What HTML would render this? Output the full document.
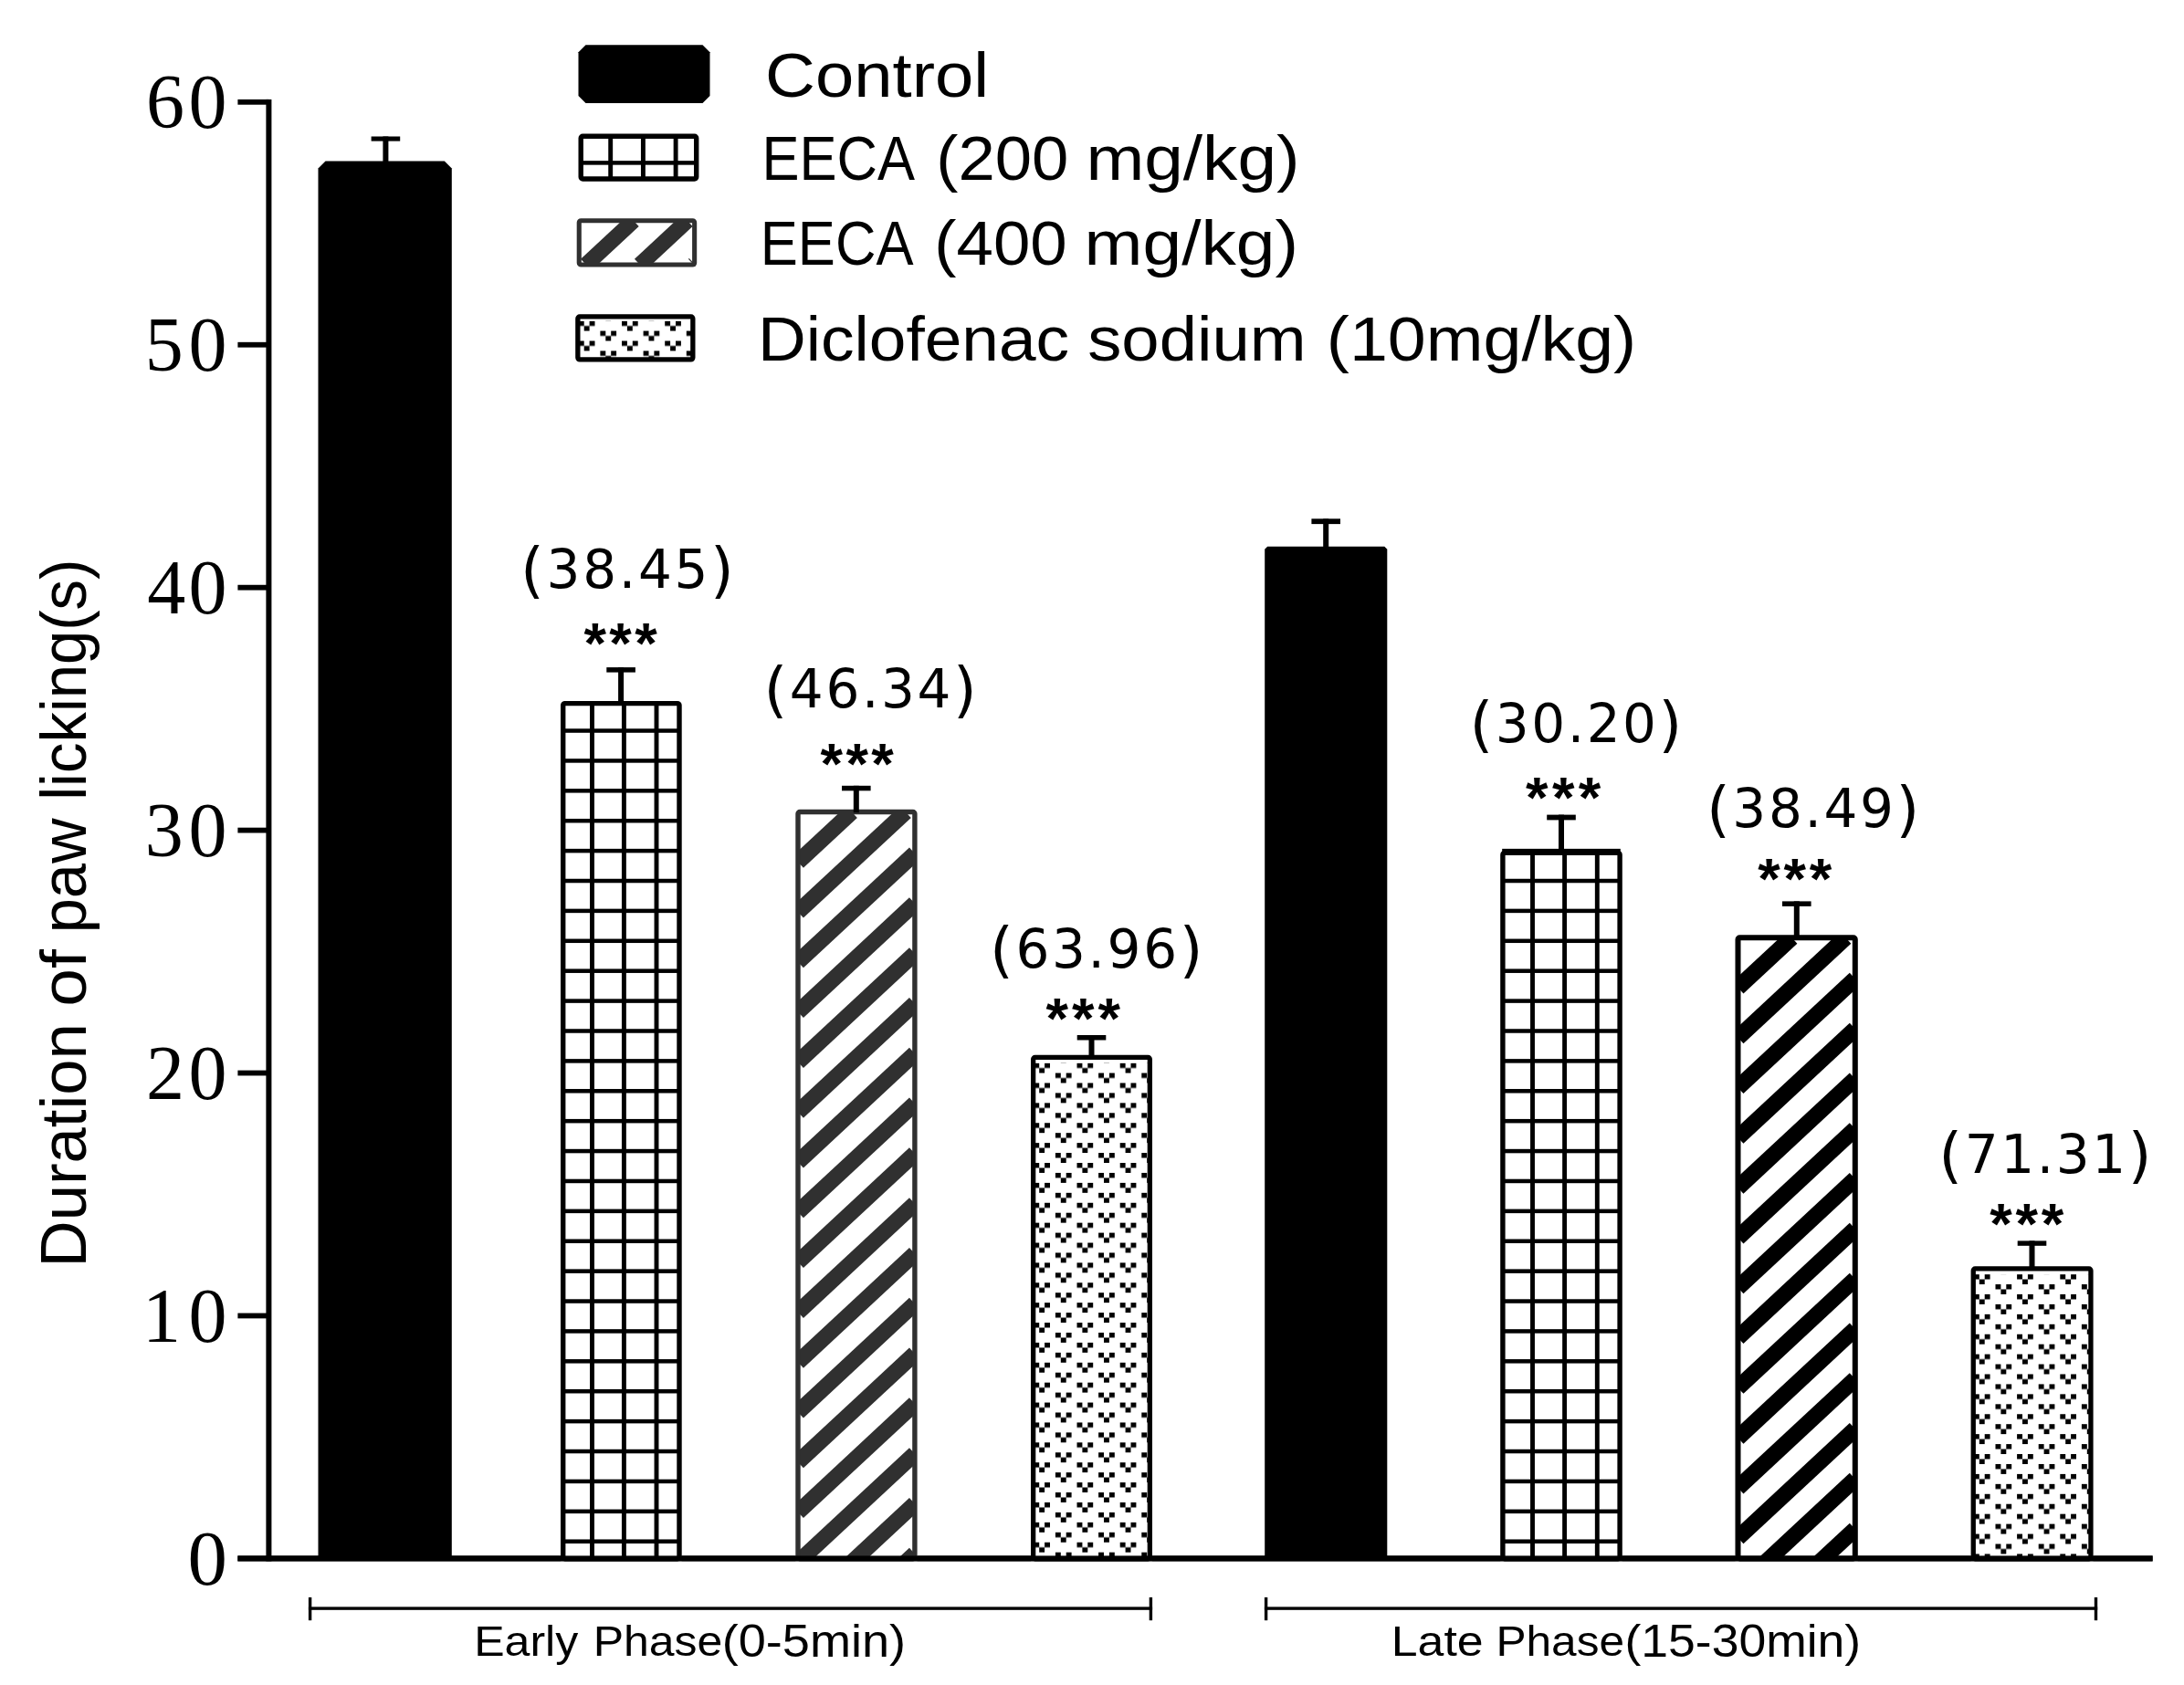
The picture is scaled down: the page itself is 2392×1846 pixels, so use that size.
<!DOCTYPE html>
<html><head><meta charset="utf-8"><title>Duration of paw licking</title>
<style>html,body{margin:0;padding:0;background:#fff}svg{display:block}text{white-space:pre}</style></head>
<body><svg width="2392" height="1846" viewBox="0 0 2392 1846">
<rect width="2392" height="1846" fill="#fff"/>
<rect x="291.40" y="108.90" width="6.00" height="1601.50" fill="#000"/>
<rect x="260.40" y="1704.40" width="2097.20" height="6.00" fill="#000"/>
<rect x="260.40" y="1438.57" width="34.00" height="5.80" fill="#000"/>
<rect x="260.40" y="1172.63" width="34.00" height="5.80" fill="#000"/>
<rect x="260.40" y="906.70" width="34.00" height="5.80" fill="#000"/>
<rect x="260.40" y="640.77" width="34.00" height="5.80" fill="#000"/>
<rect x="260.40" y="374.83" width="34.00" height="5.80" fill="#000"/>
<rect x="260.40" y="108.90" width="34.00" height="5.80" fill="#000"/>
<polygon points="356.50,176.60 486.80,176.60 494.80,184.60 494.80,1707.40 348.50,1707.40 348.50,184.60" fill="#000"/>
<rect x="614.00" y="767.90" width="132.70" height="942.50" fill="#fff"/>
<rect x="646.05" y="769.90" width="4.90" height="938.50" fill="#000"/>
<rect x="680.95" y="769.90" width="4.90" height="938.50" fill="#000"/>
<rect x="716.55" y="769.90" width="4.90" height="938.50" fill="#000"/>
<rect x="616.00" y="1686.45" width="128.70" height="4.50" fill="#000"/>
<rect x="616.00" y="1653.56" width="128.70" height="4.50" fill="#000"/>
<rect x="616.00" y="1620.66" width="128.70" height="4.50" fill="#000"/>
<rect x="616.00" y="1587.77" width="128.70" height="4.50" fill="#000"/>
<rect x="616.00" y="1554.87" width="128.70" height="4.50" fill="#000"/>
<rect x="616.00" y="1521.97" width="128.70" height="4.50" fill="#000"/>
<rect x="616.00" y="1489.08" width="128.70" height="4.50" fill="#000"/>
<rect x="616.00" y="1456.18" width="128.70" height="4.50" fill="#000"/>
<rect x="616.00" y="1423.29" width="128.70" height="4.50" fill="#000"/>
<rect x="616.00" y="1390.39" width="128.70" height="4.50" fill="#000"/>
<rect x="616.00" y="1357.50" width="128.70" height="4.50" fill="#000"/>
<rect x="616.00" y="1324.61" width="128.70" height="4.50" fill="#000"/>
<rect x="616.00" y="1291.71" width="128.70" height="4.50" fill="#000"/>
<rect x="616.00" y="1258.82" width="128.70" height="4.50" fill="#000"/>
<rect x="616.00" y="1225.92" width="128.70" height="4.50" fill="#000"/>
<rect x="616.00" y="1193.03" width="128.70" height="4.50" fill="#000"/>
<rect x="616.00" y="1160.13" width="128.70" height="4.50" fill="#000"/>
<rect x="616.00" y="1127.24" width="128.70" height="4.50" fill="#000"/>
<rect x="616.00" y="1094.34" width="128.70" height="4.50" fill="#000"/>
<rect x="616.00" y="1061.44" width="128.70" height="4.50" fill="#000"/>
<rect x="616.00" y="1028.55" width="128.70" height="4.50" fill="#000"/>
<rect x="616.00" y="995.65" width="128.70" height="4.50" fill="#000"/>
<rect x="616.00" y="962.76" width="128.70" height="4.50" fill="#000"/>
<rect x="616.00" y="929.87" width="128.70" height="4.50" fill="#000"/>
<rect x="616.00" y="896.97" width="128.70" height="4.50" fill="#000"/>
<rect x="616.00" y="864.07" width="128.70" height="4.50" fill="#000"/>
<rect x="616.00" y="831.18" width="128.70" height="4.50" fill="#000"/>
<rect x="616.00" y="798.28" width="128.70" height="4.50" fill="#000"/>
<rect x="616.70" y="770.60" width="127.30" height="937.10" fill="none" stroke="#000" stroke-width="5.4" rx="2"/>
<clipPath id="c1"><rect x="872.30" y="887.80" width="131.30" height="821.60"/></clipPath>
<rect x="871.30" y="886.80" width="133.30" height="823.60" fill="#fff"/>
<g clip-path="url(#c1)" stroke="#303030" stroke-width="17.43" stroke-linecap="butt">
<line x1="874.00" y1="944.30" x2="932.92" y2="889.50"/>
<line x1="874.00" y1="999.10" x2="991.85" y2="889.50"/>
<line x1="874.00" y1="1053.90" x2="1001.90" y2="934.95"/>
<line x1="874.00" y1="1108.70" x2="1001.90" y2="989.75"/>
<line x1="874.00" y1="1163.50" x2="1001.90" y2="1044.55"/>
<line x1="874.00" y1="1218.30" x2="1001.90" y2="1099.35"/>
<line x1="874.00" y1="1273.10" x2="1001.90" y2="1154.15"/>
<line x1="874.00" y1="1327.90" x2="1001.90" y2="1208.95"/>
<line x1="874.00" y1="1382.70" x2="1001.90" y2="1263.75"/>
<line x1="874.00" y1="1437.50" x2="1001.90" y2="1318.55"/>
<line x1="874.00" y1="1492.30" x2="1001.90" y2="1373.35"/>
<line x1="874.00" y1="1547.10" x2="1001.90" y2="1428.15"/>
<line x1="874.00" y1="1601.90" x2="1001.90" y2="1482.95"/>
<line x1="874.00" y1="1656.70" x2="1001.90" y2="1537.75"/>
<line x1="874.00" y1="1711.50" x2="1001.90" y2="1592.55"/>
<line x1="874.00" y1="1766.30" x2="1001.90" y2="1647.35"/>
<line x1="874.00" y1="1821.10" x2="1001.90" y2="1702.15"/>
<line x1="874.00" y1="1875.90" x2="1001.90" y2="1756.95"/>
<line x1="895.83" y1="1910.40" x2="1001.90" y2="1811.75"/>
<line x1="954.75" y1="1910.40" x2="1001.90" y2="1866.55"/>
</g>
<rect x="874.00" y="889.50" width="127.90" height="818.20" fill="none" stroke="#303030" stroke-width="5.4" rx="2"/>
<clipPath id="c2"><rect x="1129.00" y="1155.80" width="133.00" height="554.60"/></clipPath>
<rect x="1129.00" y="1155.80" width="133.00" height="554.60" fill="#fff"/>
<pattern id="p2" patternUnits="userSpaceOnUse" x="1132.30" y="1164.60" width="47.20" height="21.88"><g fill="#000"><rect x="0.00" y="0.00" width="5.90" height="5.47"/><rect x="11.80" y="0.00" width="5.90" height="5.47"/><rect x="5.90" y="5.47" width="5.90" height="5.47"/><rect x="23.60" y="10.94" width="5.90" height="5.47"/><rect x="35.40" y="10.94" width="5.90" height="5.47"/><rect x="29.50" y="16.41" width="5.90" height="5.47"/></g></pattern>
<rect x="1131.00" y="1164.60" width="129.00" height="543.80" fill="url(#p2)"/>
<rect x="1131.65" y="1158.45" width="127.70" height="549.30" fill="none" stroke="#000" stroke-width="5.3" rx="2"/>
<polygon points="1388.20,598.80 1516.30,598.80 1519.30,601.80 1519.30,1707.40 1385.20,1707.40 1385.20,601.80" fill="#000"/>
<rect x="1643.20" y="931.70" width="133.60" height="778.70" fill="#fff"/>
<rect x="1676.05" y="933.70" width="4.90" height="774.70" fill="#000"/>
<rect x="1711.15" y="933.70" width="4.90" height="774.70" fill="#000"/>
<rect x="1746.85" y="933.70" width="4.90" height="774.70" fill="#000"/>
<rect x="1645.20" y="1686.45" width="129.60" height="4.50" fill="#000"/>
<rect x="1645.20" y="1653.56" width="129.60" height="4.50" fill="#000"/>
<rect x="1645.20" y="1620.66" width="129.60" height="4.50" fill="#000"/>
<rect x="1645.20" y="1587.77" width="129.60" height="4.50" fill="#000"/>
<rect x="1645.20" y="1554.87" width="129.60" height="4.50" fill="#000"/>
<rect x="1645.20" y="1521.97" width="129.60" height="4.50" fill="#000"/>
<rect x="1645.20" y="1489.08" width="129.60" height="4.50" fill="#000"/>
<rect x="1645.20" y="1456.18" width="129.60" height="4.50" fill="#000"/>
<rect x="1645.20" y="1423.29" width="129.60" height="4.50" fill="#000"/>
<rect x="1645.20" y="1390.39" width="129.60" height="4.50" fill="#000"/>
<rect x="1645.20" y="1357.50" width="129.60" height="4.50" fill="#000"/>
<rect x="1645.20" y="1324.61" width="129.60" height="4.50" fill="#000"/>
<rect x="1645.20" y="1291.71" width="129.60" height="4.50" fill="#000"/>
<rect x="1645.20" y="1258.82" width="129.60" height="4.50" fill="#000"/>
<rect x="1645.20" y="1225.92" width="129.60" height="4.50" fill="#000"/>
<rect x="1645.20" y="1193.03" width="129.60" height="4.50" fill="#000"/>
<rect x="1645.20" y="1160.13" width="129.60" height="4.50" fill="#000"/>
<rect x="1645.20" y="1127.24" width="129.60" height="4.50" fill="#000"/>
<rect x="1645.20" y="1094.34" width="129.60" height="4.50" fill="#000"/>
<rect x="1645.20" y="1061.44" width="129.60" height="4.50" fill="#000"/>
<rect x="1645.20" y="1028.55" width="129.60" height="4.50" fill="#000"/>
<rect x="1645.20" y="995.65" width="129.60" height="4.50" fill="#000"/>
<rect x="1645.20" y="962.76" width="129.60" height="4.50" fill="#000"/>
<rect x="1645.20" y="929.87" width="129.60" height="4.50" fill="#000"/>
<rect x="1645.90" y="934.40" width="128.20" height="773.30" fill="none" stroke="#000" stroke-width="5.4" rx="2"/>
<clipPath id="c3"><rect x="1901.50" y="1025.20" width="132.30" height="684.20"/></clipPath>
<rect x="1900.50" y="1024.20" width="134.30" height="686.20" fill="#fff"/>
<g clip-path="url(#c3)" stroke="#000" stroke-width="17.57" stroke-linecap="butt">
<line x1="1903.50" y1="1082.00" x2="1962.42" y2="1027.20"/>
<line x1="1903.50" y1="1136.80" x2="2021.35" y2="1027.20"/>
<line x1="1903.50" y1="1191.60" x2="2031.80" y2="1072.28"/>
<line x1="1903.50" y1="1246.40" x2="2031.80" y2="1127.08"/>
<line x1="1903.50" y1="1301.20" x2="2031.80" y2="1181.88"/>
<line x1="1903.50" y1="1356.00" x2="2031.80" y2="1236.68"/>
<line x1="1903.50" y1="1410.80" x2="2031.80" y2="1291.48"/>
<line x1="1903.50" y1="1465.60" x2="2031.80" y2="1346.28"/>
<line x1="1903.50" y1="1520.40" x2="2031.80" y2="1401.08"/>
<line x1="1903.50" y1="1575.20" x2="2031.80" y2="1455.88"/>
<line x1="1903.50" y1="1630.00" x2="2031.80" y2="1510.68"/>
<line x1="1903.50" y1="1684.80" x2="2031.80" y2="1565.48"/>
<line x1="1903.50" y1="1739.60" x2="2031.80" y2="1620.28"/>
<line x1="1903.50" y1="1794.40" x2="2031.80" y2="1675.08"/>
<line x1="1903.50" y1="1849.20" x2="2031.80" y2="1729.88"/>
<line x1="1903.50" y1="1904.00" x2="2031.80" y2="1784.68"/>
<line x1="1955.54" y1="1910.40" x2="2031.80" y2="1839.48"/>
<line x1="2014.47" y1="1910.40" x2="2031.80" y2="1894.28"/>
</g>
<rect x="1903.50" y="1027.20" width="128.30" height="680.20" fill="none" stroke="#000" stroke-width="6.0" rx="2"/>
<clipPath id="c4"><rect x="2158.60" y="1387.30" width="134.00" height="323.10"/></clipPath>
<rect x="2158.60" y="1387.30" width="134.00" height="323.10" fill="#fff"/>
<pattern id="p4" patternUnits="userSpaceOnUse" x="2161.90" y="1396.10" width="47.20" height="21.88"><g fill="#000"><rect x="0.00" y="0.00" width="5.90" height="5.47"/><rect x="11.80" y="0.00" width="5.90" height="5.47"/><rect x="5.90" y="5.47" width="5.90" height="5.47"/><rect x="23.60" y="10.94" width="5.90" height="5.47"/><rect x="35.40" y="10.94" width="5.90" height="5.47"/><rect x="29.50" y="16.41" width="5.90" height="5.47"/></g></pattern>
<rect x="2160.60" y="1396.10" width="130.00" height="312.30" fill="url(#p4)"/>
<rect x="2161.25" y="1389.95" width="128.70" height="317.80" fill="none" stroke="#000" stroke-width="5.3" rx="2"/>
<rect x="419.40" y="149.50" width="6.00" height="29.80" fill="#000"/>
<rect x="406.60" y="149.50" width="31.60" height="5.10" fill="#000"/>
<rect x="677.10" y="731.10" width="6.00" height="39.50" fill="#000"/>
<rect x="664.30" y="731.10" width="31.60" height="5.50" fill="#000"/>
<rect x="934.80" y="860.80" width="6.00" height="29.40" fill="#000"/>
<rect x="922.00" y="860.80" width="31.60" height="5.50" fill="#000"/>
<rect x="1192.50" y="1134.00" width="6.00" height="24.50" fill="#000"/>
<rect x="1179.70" y="1134.00" width="31.60" height="5.50" fill="#000"/>
<rect x="1449.20" y="568.30" width="6.00" height="33.20" fill="#000"/>
<rect x="1436.40" y="568.30" width="31.60" height="5.80" fill="#000"/>
<rect x="1707.00" y="892.60" width="6.00" height="41.80" fill="#000"/>
<rect x="1694.20" y="892.60" width="31.60" height="5.80" fill="#000"/>
<rect x="1964.80" y="987.40" width="6.00" height="40.10" fill="#000"/>
<rect x="1952.00" y="987.40" width="31.60" height="5.50" fill="#000"/>
<rect x="2222.50" y="1359.40" width="6.00" height="30.60" fill="#000"/>
<rect x="2209.70" y="1359.40" width="31.60" height="5.40" fill="#000"/>
<rect x="260.40" y="1704.40" width="2097.20" height="6.00" fill="#000"/>
<polygon points="641.50,49.30 769.50,49.30 777.50,57.30 777.50,105.00 769.50,113.00 641.50,113.00 633.50,105.00 633.50,57.30" fill="#000"/>
<rect x="633.50" y="146.50" width="131.90" height="52.20" fill="#fff"/>
<rect x="666.25" y="148.50" width="4.90" height="48.20" fill="#000"/>
<rect x="701.95" y="148.50" width="4.90" height="48.20" fill="#000"/>
<rect x="737.65" y="148.50" width="4.90" height="48.20" fill="#000"/>
<rect x="635.50" y="176.15" width="127.90" height="4.50" fill="#000"/>
<rect x="636.20" y="149.20" width="126.50" height="46.80" fill="none" stroke="#000" stroke-width="5.4" rx="2"/>
<clipPath id="c5"><rect x="632.70" y="240.20" width="129.50" height="51.40"/></clipPath>
<rect x="631.70" y="239.20" width="131.50" height="53.40" fill="#fff"/>
<g clip-path="url(#c5)" stroke="#303030" stroke-width="17.21" stroke-linecap="butt">
<line x1="641.88" y1="290.05" x2="693.82" y2="241.75"/>
<line x1="700.81" y1="290.05" x2="752.74" y2="241.75"/>
<line x1="759.73" y1="290.05" x2="760.65" y2="289.20"/>
</g>
<rect x="634.25" y="241.75" width="126.40" height="48.30" fill="none" stroke="#303030" stroke-width="5.1" rx="2"/>
<clipPath id="c6"><rect x="630.20" y="344.30" width="131.30" height="52.20"/></clipPath>
<rect x="630.20" y="344.30" width="131.30" height="52.20" fill="#fff"/>
<pattern id="p6" patternUnits="userSpaceOnUse" x="633.80" y="351.60" width="47.20" height="21.88"><g fill="#000"><rect x="0.00" y="0.00" width="5.90" height="5.47"/><rect x="11.80" y="0.00" width="5.90" height="5.47"/><rect x="5.90" y="5.47" width="5.90" height="5.47"/><rect x="23.60" y="10.94" width="5.90" height="5.47"/><rect x="35.40" y="10.94" width="5.90" height="5.47"/><rect x="29.50" y="16.41" width="5.90" height="5.47"/></g></pattern>
<rect x="632.20" y="351.60" width="127.30" height="42.90" fill="url(#p6)"/>
<rect x="632.85" y="346.95" width="126.00" height="46.90" fill="none" stroke="#000" stroke-width="5.3" rx="2"/>
<rect x="337.90" y="1760.40" width="924.20" height="3.40" fill="#000"/>
<rect x="337.90" y="1750.00" width="3.40" height="25.20" fill="#000"/>
<rect x="1258.70" y="1750.00" width="3.40" height="25.20" fill="#000"/>
<rect x="1384.90" y="1760.40" width="912.30" height="3.40" fill="#000"/>
<rect x="1384.90" y="1750.00" width="3.40" height="25.20" fill="#000"/>
<rect x="2293.80" y="1750.00" width="3.40" height="25.20" fill="#000"/>
<text x="838.14" y="106.30" textLength="245.08" lengthAdjust="spacingAndGlyphs" style="font-family:'Liberation Sans',sans-serif;font-size:68px;font-weight:normal" fill="#000">Control</text>
<text x="834.49" y="197.30" textLength="167.51" lengthAdjust="spacingAndGlyphs" style="font-family:'Liberation Sans',sans-serif;font-size:68px;font-weight:normal" fill="#000">EECA</text>
<text x="1025.30" y="197.30" textLength="145.10" lengthAdjust="spacingAndGlyphs" style="font-family:'Liberation Sans',sans-serif;font-size:68px;font-weight:normal" fill="#000">(200</text>
<text x="1189.41" y="197.30" textLength="234.15" lengthAdjust="spacingAndGlyphs" style="font-family:'Liberation Sans',sans-serif;font-size:68px;font-weight:normal" fill="#000">mg/kg)</text>
<text x="832.79" y="290.30" textLength="167.71" lengthAdjust="spacingAndGlyphs" style="font-family:'Liberation Sans',sans-serif;font-size:68px;font-weight:normal" fill="#000">EECA</text>
<text x="1023.29" y="290.30" textLength="145.41" lengthAdjust="spacingAndGlyphs" style="font-family:'Liberation Sans',sans-serif;font-size:68px;font-weight:normal" fill="#000">(400</text>
<text x="1187.61" y="290.30" textLength="234.47" lengthAdjust="spacingAndGlyphs" style="font-family:'Liberation Sans',sans-serif;font-size:68px;font-weight:normal" fill="#000">mg/kg)</text>
<text x="829.99" y="394.60" textLength="341.15" lengthAdjust="spacingAndGlyphs" style="font-family:'Liberation Sans',sans-serif;font-size:68px;font-weight:normal" fill="#000">Diclofenac</text>
<text x="1191.24" y="394.60" textLength="239.30" lengthAdjust="spacingAndGlyphs" style="font-family:'Liberation Sans',sans-serif;font-size:68px;font-weight:normal" fill="#000">sodium</text>
<text x="1452.77" y="394.60" textLength="339.44" lengthAdjust="spacingAndGlyphs" style="font-family:'Liberation Sans',sans-serif;font-size:68px;font-weight:normal" fill="#000">(10mg/kg)</text>
<text x="159.97" y="140.00" letter-spacing="4.45" style="font-family:'Liberation Serif',serif;font-size:84px;font-weight:normal" fill="#000">60</text>
<text x="158.66" y="405.93" letter-spacing="5.76" style="font-family:'Liberation Serif',serif;font-size:84px;font-weight:normal" fill="#000">50</text>
<text x="161.29" y="671.87" letter-spacing="3.14" style="font-family:'Liberation Serif',serif;font-size:84px;font-weight:normal" fill="#000">40</text>
<text x="158.66" y="937.80" letter-spacing="5.76" style="font-family:'Liberation Serif',serif;font-size:84px;font-weight:normal" fill="#000">30</text>
<text x="159.97" y="1203.73" letter-spacing="4.45" style="font-family:'Liberation Serif',serif;font-size:84px;font-weight:normal" fill="#000">20</text>
<text x="156.04" y="1469.67" letter-spacing="8.39" style="font-family:'Liberation Serif',serif;font-size:84px;font-weight:normal" fill="#000">10</text>
<text x="205.49" y="1735.60" textLength="43.43" lengthAdjust="spacingAndGlyphs" style="font-family:'Liberation Serif',serif;font-size:84px;font-weight:normal" fill="#000">0</text>
<text transform="translate(94.20,1382.90) rotate(-90)" x="-5.52" y="0" textLength="267.19" lengthAdjust="spacingAndGlyphs" style="font-family:'Liberation Sans',sans-serif;font-size:70.5px;font-weight:normal" fill="#000">Duration</text>
<text transform="translate(94.20,1100.50) rotate(-90)" x="-2.35" y="0" textLength="62.59" lengthAdjust="spacingAndGlyphs" style="font-family:'Liberation Sans',sans-serif;font-size:70.5px;font-weight:normal" fill="#000">of</text>
<text transform="translate(94.20,1018.00) rotate(-90)" x="-4.28" y="0" textLength="125.75" lengthAdjust="spacingAndGlyphs" style="font-family:'Liberation Sans',sans-serif;font-size:70.5px;font-weight:normal" fill="#000">paw</text>
<text transform="translate(94.20,872.60) rotate(-90)" x="-4.19" y="0" textLength="264.15" lengthAdjust="spacingAndGlyphs" style="font-family:'Liberation Sans',sans-serif;font-size:70.5px;font-weight:normal" fill="#000">licking(s)</text>
<text x="570.03" y="643.70" letter-spacing="2.71" style="font-family:'DejaVu Sans',sans-serif;font-size:58px;font-weight:normal" fill="#000"><tspan font-size="66.1" dy="3.0">(</tspan><tspan dy="-3.0">38.45</tspan><tspan font-size="66.1" dy="3.0">)</tspan></text>
<text x="836.43" y="774.50" letter-spacing="2.63" style="font-family:'DejaVu Sans',sans-serif;font-size:58px;font-weight:normal" fill="#000"><tspan font-size="66.1" dy="3.0">(</tspan><tspan dy="-3.0">46.34</tspan><tspan font-size="66.1" dy="3.0">)</tspan></text>
<text x="1084.03" y="1059.80" letter-spacing="2.64" style="font-family:'DejaVu Sans',sans-serif;font-size:58px;font-weight:normal" fill="#000"><tspan font-size="66.1" dy="3.0">(</tspan><tspan dy="-3.0">63.96</tspan><tspan font-size="66.1" dy="3.0">)</tspan></text>
<text x="1609.53" y="813.20" letter-spacing="2.53" style="font-family:'DejaVu Sans',sans-serif;font-size:58px;font-weight:normal" fill="#000"><tspan font-size="66.1" dy="3.0">(</tspan><tspan dy="-3.0">30.20</tspan><tspan font-size="66.1" dy="3.0">)</tspan></text>
<text x="1868.93" y="906.30" letter-spacing="2.63" style="font-family:'DejaVu Sans',sans-serif;font-size:58px;font-weight:normal" fill="#000"><tspan font-size="66.1" dy="3.0">(</tspan><tspan dy="-3.0">38.49</tspan><tspan font-size="66.1" dy="3.0">)</tspan></text>
<text x="2123.23" y="1285.00" letter-spacing="2.63" style="font-family:'DejaVu Sans',sans-serif;font-size:58px;font-weight:normal" fill="#000"><tspan font-size="66.1" dy="3.0">(</tspan><tspan dy="-3.0">71.31</tspan><tspan font-size="66.1" dy="3.0">)</tspan></text>
<text x="639.50 667.33 695.15" y="726.09" style="font-family:'Liberation Sans',sans-serif;font-size:63px;font-weight:bold" fill="#000">***</text>
<text x="898.50 926.38 954.25" y="857.89" style="font-family:'Liberation Sans',sans-serif;font-size:63px;font-weight:bold" fill="#000">***</text>
<text x="1145.60 1174.03 1202.45" y="1137.49" style="font-family:'Liberation Sans',sans-serif;font-size:63px;font-weight:bold" fill="#000">***</text>
<text x="1671.10 1699.88 1728.65" y="895.49" style="font-family:'Liberation Sans',sans-serif;font-size:63px;font-weight:bold" fill="#000">***</text>
<text x="1925.20 1953.48 1981.75" y="984.49" style="font-family:'Liberation Sans',sans-serif;font-size:63px;font-weight:bold" fill="#000">***</text>
<text x="2179.20 2207.48 2235.75" y="1362.09" style="font-family:'Liberation Sans',sans-serif;font-size:63px;font-weight:bold" fill="#000">***</text>
<text x="519.19" y="1814.20" textLength="114.11" lengthAdjust="spacingAndGlyphs" style="font-family:'Liberation Sans',sans-serif;font-size:47px;font-weight:normal" fill="#000">Early</text>
<text x="649.70" y="1814.20" textLength="141.63" lengthAdjust="spacingAndGlyphs" style="font-family:'Liberation Sans',sans-serif;font-size:47px;font-weight:normal" fill="#000">Phase</text>
<text x="1523.75" y="1814.20" textLength="100.85" lengthAdjust="spacingAndGlyphs" style="font-family:'Liberation Sans',sans-serif;font-size:47px;font-weight:normal" fill="#000">Late</text>
<text x="1638.43" y="1814.20" textLength="140.58" lengthAdjust="spacingAndGlyphs" style="font-family:'Liberation Sans',sans-serif;font-size:47px;font-weight:normal" fill="#000">Phase</text>
<text x="790.76" y="1814.60" textLength="201.33" lengthAdjust="spacingAndGlyphs" style="font-family:'Liberation Sans',sans-serif;font-size:50px;font-weight:normal" fill="#000">(0-5min)</text>
<text x="1779.49" y="1814.60" textLength="258.68" lengthAdjust="spacingAndGlyphs" style="font-family:'Liberation Sans',sans-serif;font-size:50px;font-weight:normal" fill="#000">(15-30min)</text>
</svg></body></html>
